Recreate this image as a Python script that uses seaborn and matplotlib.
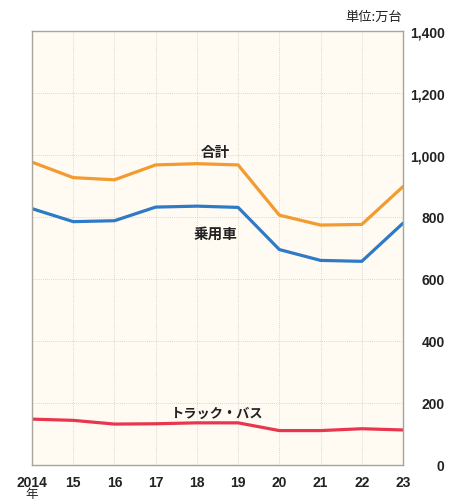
import matplotlib
matplotlib.use("Agg")
import matplotlib.pyplot as plt
import seaborn as sns
import pandas as pd

years = [2014, 2015, 2016, 2017, 2018, 2019, 2020, 2021, 2022, 2023]
year_labels = ["2014", "15", "16", "17", "18", "19", "20", "21", "22", "23"]
total = [977, 927, 920, 968, 972, 968, 806, 774, 776, 898]
passenger = [827, 785, 788, 832, 835, 831, 695, 660, 657, 780]
truck_bus = [148, 144, 132, 133, 136, 136, 111, 111, 117, 113]
series_names = ["合計", "乗用車", "トラック・バス"]
colors = ["#F39A30", "#2F7AC6", "#E8364F"]
yticks = [0, 200, 400, 600, 800, 1000, 1200, 1400]

sns.set_style("white")
plt.rcParams["font.family"] = ["Liberation Sans", "Noto Sans CJK JP", "DejaVu Sans"]

df = pd.DataFrame({
    "year": years * 3,
    "value": total + passenger + truck_bus,
    "series": [series_names[0]] * 10 + [series_names[1]] * 10 + [series_names[2]] * 10,
})

fig = plt.figure(figsize=(4.5, 5.02), dpi=100)
ax = fig.add_axes([32 / 450, 36 / 502, 371 / 450, 434 / 502])
ax.set_facecolor("#FFFBF2")

sns.lineplot(data=df, x="year", y="value", hue="series", palette=colors,
             hue_order=series_names, linewidth=2.3, ax=ax, legend=False)

ax.set_xlim(2014, 2023)
ax.set_ylim(0, 1400)
ax.set_xticks(years)
ax.set_xticklabels(year_labels)
ax.set_yticks(yticks)
ax.set_yticklabels([f"{v:,}" for v in yticks])
ax.yaxis.tick_right()
ax.tick_params(axis="both", length=0, labelsize=10, colors="#222222")
ax.tick_params(axis="y", pad=30)
for lbl in ax.get_yticklabels():
    lbl.set_ha("right")
    lbl.set_fontweight("bold")
for lbl in ax.get_xticklabels():
    lbl.set_fontweight("bold")
ax.tick_params(axis="x", pad=7)
ax.set_xlabel("")
ax.set_ylabel("")
ax.grid(True, color="#CFCBC2", linestyle=(0, (1, 1.5)), linewidth=0.6)
for s in ax.spines.values():
    s.set_color("#A8A49C")
    s.set_linewidth(1.0)

jp = ["Noto Sans CJK JP", "DejaVu Sans"]
ax.text(2018.45, 1012, "合計", ha="center", va="center", fontsize=10.5,
        fontweight="bold", family=jp, color="#222222")
ax.text(2018.45, 750, "乗用車", ha="center", va="center", fontsize=10.5,
        fontweight="bold", family=jp, color="#222222")
ax.text(2018.5, 168, "トラック・バス", ha="center", va="center", fontsize=9.5,
        fontweight="bold", family=jp, color="#222222")
fig.text(402 / 450, 1 - 17 / 502, "単位:万台", ha="right", va="center",
         fontsize=9.5, family=jp, color="#222222")
fig.text(32 / 450, 1 - 495 / 502, "年", ha="center", va="center",
         fontsize=9, family=jp, color="#222222")

fig.savefig("out.png", dpi=100)
